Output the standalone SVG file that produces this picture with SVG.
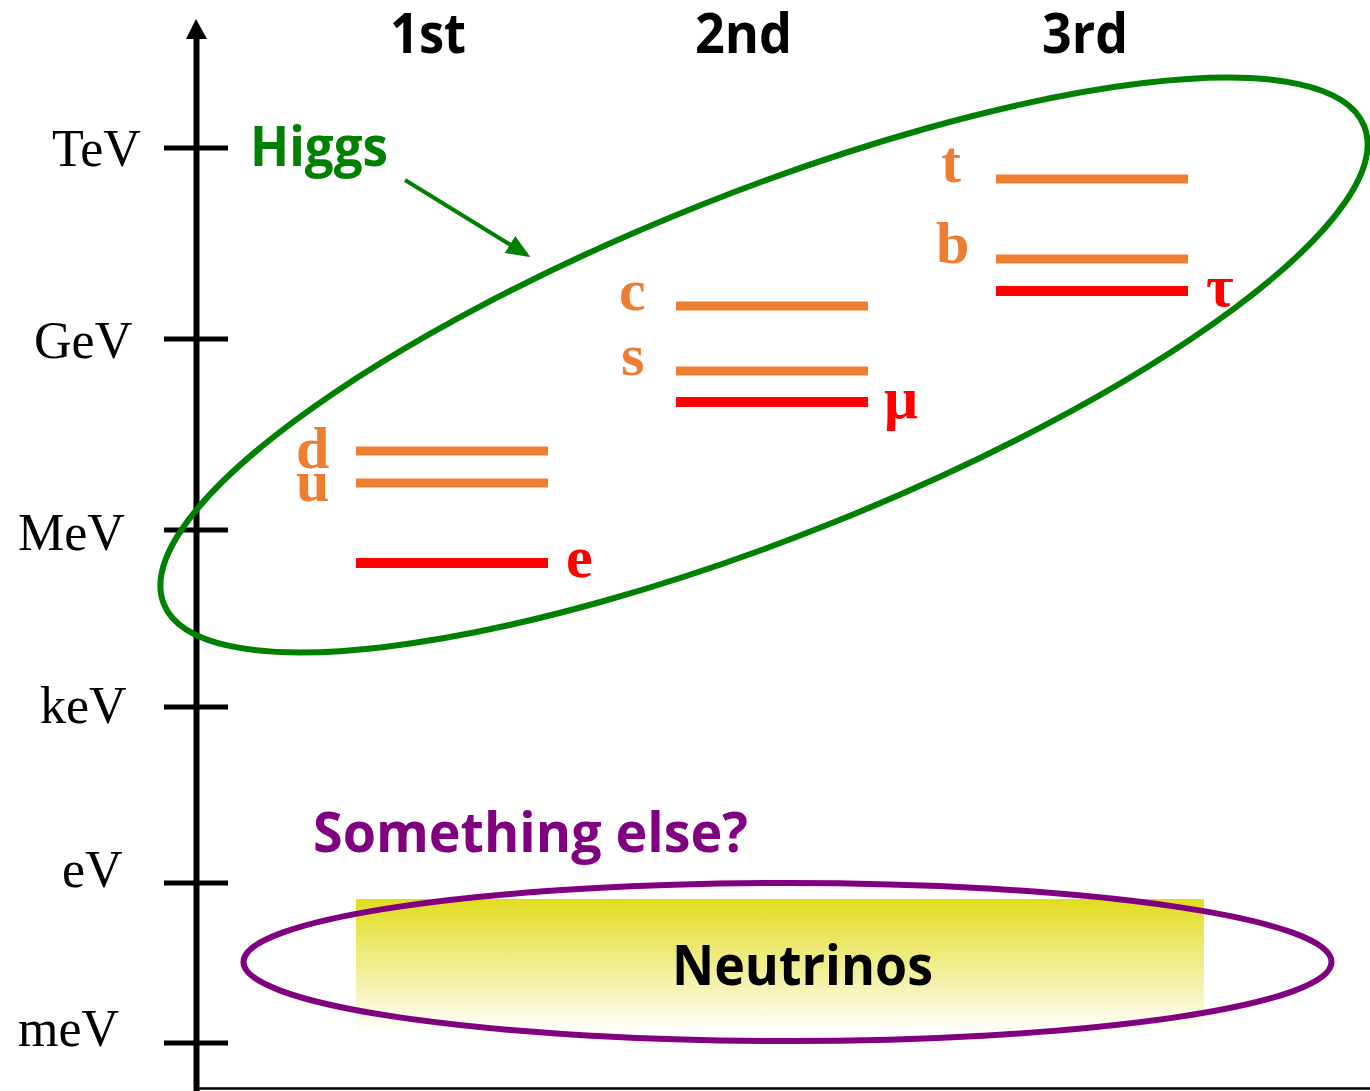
<svg xmlns="http://www.w3.org/2000/svg" width="1370" height="1091" viewBox="0 0 1370 1091">
<style>
.ax{font-family:"Liberation Serif","Times New Roman",serif;font-size:52px;fill:#000}
.hd{font-family:"Open Sans","Liberation Sans",sans-serif;font-weight:bold;font-size:56px}
.q{font-family:"Liberation Serif","Times New Roman",serif;font-weight:bold;font-size:60px;fill:#ED7D31}
.l{font-family:"Liberation Serif","Times New Roman",serif;font-weight:bold;font-size:60px;fill:#FF0000}
.ql{stroke:#ED7D31;stroke-width:9}
.ll{stroke:#FF0000;stroke-width:10}
.tick{stroke:#000;stroke-width:5}
</style>
<defs>
<linearGradient id="nu" x1="0" y1="0" x2="0" y2="1">
<stop offset="0" stop-color="#E2DC20"/>
<stop offset="1" stop-color="#FFFFFF"/>
</linearGradient>
<marker id="ga" markerWidth="6" markerHeight="5" refX="5" refY="2.5" orient="auto" markerUnits="strokeWidth">
<path d="M0,0 L6,2.5 L0,5 z" fill="#008000"/>
</marker>
</defs>
<rect width="1370" height="1091" fill="#fff"/>
<g id="axis">
<line x1="196.5" y1="36" x2="196.5" y2="1091" stroke="#000" stroke-width="6"/>
<polygon points="196,19 186,39 207,39" fill="#000"/>
<line x1="196" y1="1088.5" x2="1370" y2="1088.5" stroke="#000" stroke-width="2.5"/>
<line class="tick" x1="164" y1="148" x2="228" y2="148"/>
<line class="tick" x1="164" y1="339" x2="228" y2="339"/>
<line class="tick" x1="164" y1="530" x2="228" y2="530"/>
<line class="tick" x1="164" y1="707" x2="228" y2="707"/>
<line class="tick" x1="164" y1="883" x2="228" y2="883"/>
<line class="tick" x1="164" y1="1043" x2="228" y2="1043"/>
<text class="ax" x="52" y="166">TeV</text>
<text class="ax" x="34" y="358">GeV</text>
<text class="ax" x="18" y="550">MeV</text>
<text class="ax" x="40" y="723">keV</text>
<text class="ax" x="62" y="887">eV</text>
<text class="ax" x="18" y="1046">meV</text>
</g>
<g id="headers">
<text class="hd" x="390" y="53" textLength="76" lengthAdjust="spacingAndGlyphs">1st</text>
<text class="hd" x="695" y="53" textLength="97" lengthAdjust="spacingAndGlyphs">2nd</text>
<text class="hd" x="1042" y="53" textLength="86" lengthAdjust="spacingAndGlyphs">3rd</text>
</g>
<g id="neutrinos">
<rect x="356" y="899" width="848" height="134" fill="url(#nu)"/>
<text class="hd" x="672" y="985" fill="#000" textLength="261" lengthAdjust="spacingAndGlyphs">Neutrinos</text>
</g>
<g id="something-else">
<ellipse cx="787.5" cy="962" rx="544" ry="79" fill="none" stroke="#800080" stroke-width="6"/>
<text class="hd" x="313" y="852" fill="#800080" textLength="435" lengthAdjust="spacingAndGlyphs">Something else?</text>
</g>
<g id="gen1">
<line class="ql" x1="356" y1="451" x2="548" y2="451"/>
<line class="ql" x1="356" y1="483" x2="548" y2="483"/>
<line class="ll" x1="356" y1="563" x2="548" y2="563"/>
<text class="q" x="296" y="468">d</text>
<text class="q" x="296" y="501">u</text>
<text class="l" x="566" y="577">e</text>
</g>
<g id="gen2">
<line class="ql" x1="676" y1="306" x2="868" y2="306"/>
<line class="ql" x1="676" y1="371" x2="868" y2="371"/>
<line class="ll" x1="676" y1="402" x2="868" y2="402"/>
<text class="q" x="619" y="310">c</text>
<text class="q" x="621" y="375">s</text>
<text class="l" x="884" y="418">μ</text>
</g>
<g id="gen3">
<line class="ql" x1="996" y1="179" x2="1188" y2="179"/>
<line class="ql" x1="996" y1="259" x2="1188" y2="259"/>
<line class="ll" x1="996" y1="291" x2="1188" y2="291"/>
<text class="q" x="941" y="182">t</text>
<text class="q" x="936" y="263">b</text>
<text class="l" x="1206" y="306">τ</text>
</g>
<g id="higgs">
<ellipse cx="764" cy="365" rx="646" ry="172" transform="rotate(-21.7 764 365)" fill="none" stroke="#008000" stroke-width="6"/>
<text class="hd" x="250" y="166" fill="#008000" textLength="138" lengthAdjust="spacingAndGlyphs">Higgs</text>
</g>
<g id="connectors">
<line x1="405" y1="180" x2="527" y2="255" stroke="#008000" stroke-width="4" marker-end="url(#ga)"/>
</g>
</svg>
